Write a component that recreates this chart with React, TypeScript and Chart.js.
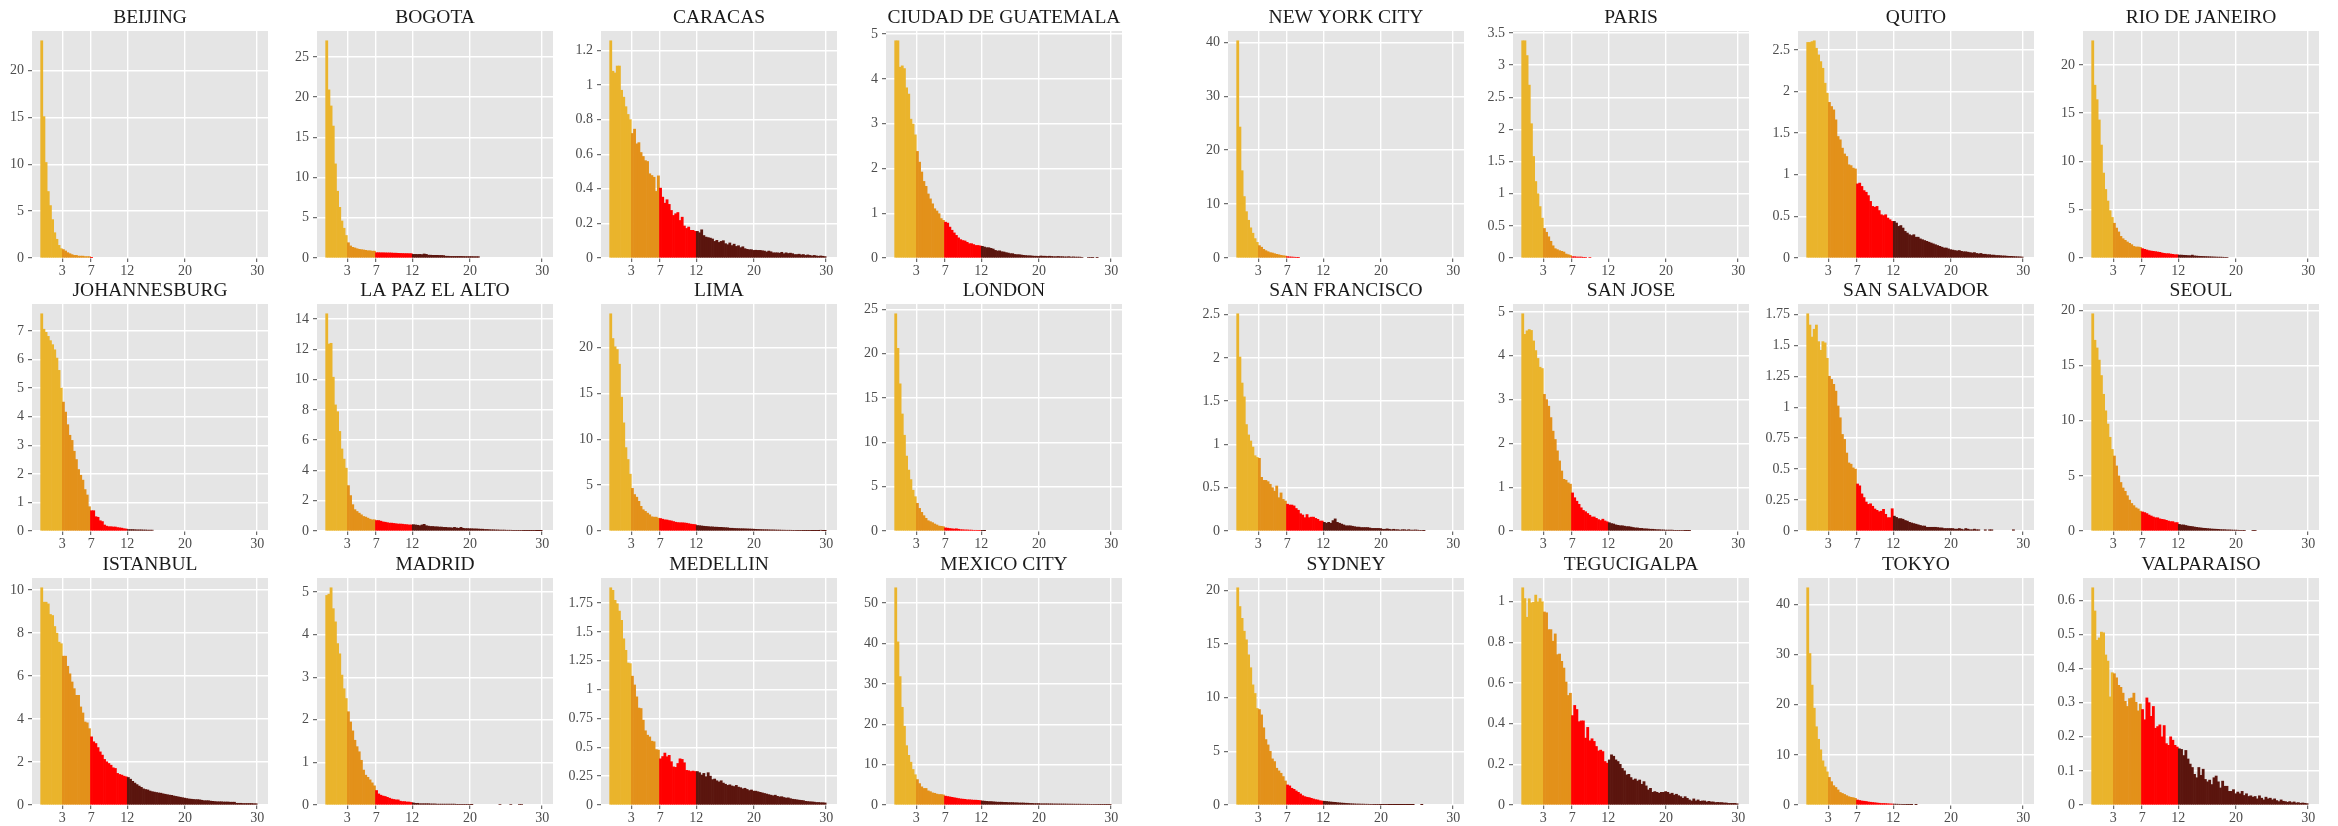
import React, { useEffect, useRef } from 'react';
import { Chart, registerables } from 'chart.js';

Chart.register(...registerables);

// ---------- data ----------
const BIN_WIDTH = 0.3;
const X_TICKS = [3, 7, 12, 20, 30];
const CLASS_BREAKS = [3, 7, 12];
const CLASS_COLORS = ['#EAB42C', '#E3911A', '#FF0000', '#5B150E'];

const BEIJING = [23.2, 15.1, 10.2, 7.1, 5.6, 4.1, 2.7, 2.0, 1.35, 1.0, 0.9, 0.75, 0.57, 0.46, 0.36, 0.28, 0.28, 0.2, 0.2, 0.2, 0.15, 0.15, 0.15, 0.05];
const BOGOTA = [27.0, 20.9, 18.9, 16.4, 11.7, 8.3, 6.3, 4.6, 3.7, 2.8,
  1.9, 1.5, 1.33, 1.25, 1.15, 1.08, 1.04, 1.0, 0.95, 0.9, 0.9, 0.85, 0.85,
  0.66, 0.66, 0.65, 0.65, 0.64, 0.63, 0.63, 0.62, 0.6, 0.6, 0.58, 0.57, 0.56, 0.55, 0.55, 0.54, 0.54,
  0.45, 0.45, 0.44, 0.45, 0.42, 0.5, 0.45, 0.35, 0.35, 0.33, 0.33, 0.33, 0.32, 0.32, 0.3,
  0.22, 0.22, 0.2, 0.2, 0.2, 0.2, 0.2, 0.2, 0.19, 0.18, 0.18, 0.18, 0.18, 0.17, 0.17, 0.17];
const CARACAS = [1.256, 1.08, 1.07, 1.11, 1.11, 0.97, 0.93, 0.875, 0.83, 0.8,
  0.72, 0.745, 0.66, 0.667, 0.61, 0.587, 0.563, 0.558, 0.487, 0.477, 0.467, 0.385, 0.475,
  0.404, 0.352, 0.317, 0.337, 0.31, 0.275, 0.246, 0.256, 0.263, 0.217, 0.236, 0.185, 0.171, 0.179, 0.16, 0.16, 0.154,
  0.154, 0.146, 0.163, 0.13, 0.121, 0.118, 0.115, 0.11, 0.096, 0.102, 0.09, 0.096, 0.1,
  0.083, 0.077, 0.087, 0.072, 0.08, 0.067, 0.071, 0.06, 0.065, 0.054, 0.05, 0.048, 0.048, 0.044,
  0.045, 0.044, 0.044, 0.042, 0.04, 0.035, 0.04, 0.036, 0.03,
  0.03, 0.03, 0.028, 0.033, 0.025, 0.03, 0.026, 0.028, 0.025, 0.02,
  0.02, 0.022, 0.018, 0.02, 0.015, 0.018, 0.015, 0.012, 0.015, 0.012, 0.01, 0.012, 0.01, 0.008];
const CIUDAD_DE_GUATEMALA = [4.85, 4.85, 4.26, 4.29, 4.23, 3.8, 3.66, 3.1, 2.99, 2.75,
  2.38, 2.14, 1.92, 1.71, 1.6, 1.43, 1.32, 1.21, 1.1, 1.05, 0.99, 0.88, 0.84,
  0.8, 0.78, 0.69, 0.62, 0.56, 0.505, 0.45, 0.41, 0.39, 0.38, 0.35, 0.32, 0.32, 0.3, 0.28, 0.28, 0.27,
  0.26, 0.245, 0.23, 0.23, 0.215, 0.2, 0.17, 0.156, 0.16, 0.14, 0.134, 0.12, 0.11, 0.097, 0.097, 0.08, 0.075, 0.075, 0.067, 0.06,
  0.055, 0.05, 0.05, 0.045, 0.04, 0.04, 0.035, 0.045, 0.04, 0.04, 0.035, 0.04, 0.035,
  0.03, 0.03, 0.035, 0.03, 0.03, 0.025, 0.025, 0.03, 0.02, 0.025, 0.02, 0.02, 0.02, 0.015,
  0, 0, 0.015, 0.015, 0.012, 0, 0.012];
const JOHANNESBURG = [7.6, 7.06, 6.95, 6.81, 6.66, 6.52, 6.34, 6.05, 5.62, 5.0,
  4.51, 4.16, 3.72, 3.35, 3.17, 2.79, 2.5, 2.15, 1.95, 1.78, 1.45, 1.26, 0.85,
  0.71, 0.71, 0.5, 0.48, 0.36, 0.33, 0.21, 0.17, 0.15, 0.15, 0.14, 0.14, 0.12, 0.11, 0.1, 0.08, 0.07,
  0.05, 0.05, 0.05, 0.045, 0.04, 0.04, 0.04, 0.035, 0.035, 0.03, 0.03, 0.03];
const LA_PAZ_EL_ALTO = [14.35, 12.35, 12.4, 10.16, 8.33, 7.88, 6.58, 5.42, 4.75, 4.15,
  3.0, 2.34, 1.74, 1.41, 1.29, 1.18, 1.07, 0.96, 0.92, 0.85, 0.78, 0.74, 0.74,
  0.69, 0.69, 0.65, 0.6, 0.58, 0.55, 0.52, 0.52, 0.5, 0.48, 0.46, 0.46, 0.45, 0.43, 0.42, 0.4, 0.4,
  0.42, 0.4, 0.38, 0.35, 0.4, 0.44, 0.35, 0.32, 0.3, 0.3, 0.28, 0.28, 0.26, 0.26, 0.24, 0.24,
  0.22, 0.22, 0.2, 0.24, 0.2, 0.18, 0.24, 0.18, 0.16, 0.16, 0.15,
  0.15, 0.14, 0.14, 0.13, 0.12, 0.12, 0.1, 0.1, 0.09, 0.08, 0.08, 0.07, 0.07, 0.06,
  0.06, 0.06, 0.05, 0.05, 0.05, 0.04, 0.04, 0.04, 0.04, 0.04, 0.03, 0.03, 0.03, 0.03, 0.03, 0.03, 0.02, 0.02, 0.02];
const LIMA = [23.7, 21.0, 20.1, 19.8, 18.2, 14.6, 11.8, 9.1, 7.8, 6.2,
  4.65, 3.98, 3.69, 3.24, 2.69, 2.32, 2.14, 1.95, 1.77, 1.55, 1.51, 1.51, 1.4,
  1.36, 1.29, 1.22, 1.2, 1.14, 1.1, 1.03, 0.96, 0.92, 0.9, 0.9, 0.88, 0.85, 0.8, 0.75, 0.72, 0.7,
  0.6, 0.58, 0.55, 0.52, 0.5, 0.48, 0.45, 0.45, 0.42, 0.42, 0.4, 0.4, 0.38, 0.36, 0.35, 0.3,
  0.3, 0.28, 0.27, 0.26, 0.25, 0.25, 0.24, 0.23, 0.22, 0.21, 0.2,
  0.18, 0.17, 0.16, 0.15, 0.14, 0.14, 0.13, 0.12, 0.12, 0.11, 0.1, 0.1, 0.09, 0.09,
  0.08, 0.08, 0.08, 0.07, 0.07, 0.06, 0.06, 0.06, 0.05, 0.05, 0.05, 0.05, 0.04, 0.04, 0.04, 0.03, 0.08, 0.04, 0.03];
const LONDON = [24.5, 20.6, 16.6, 13.2, 10.8, 8.45, 6.87, 5.8, 4.6, 3.87,
  3.12, 2.55, 2.1, 1.73, 1.43, 1.16, 1.05, 0.94, 0.79, 0.68, 0.56, 0.53, 0.49,
  0.35, 0.32, 0.28, 0.25, 0.22, 0.25, 0.2, 0.15, 0.14, 0.12, 0.12, 0.1, 0.1, 0.08, 0.08, 0.07, 0.07,
  0.05, 0.04];
const ISTANBUL = [10.1, 9.43, 9.43, 9.35, 8.86, 8.81, 8.3, 7.99, 7.57, 7.5,
  6.92, 6.92, 6.45, 6.1, 5.72, 5.41, 5.1, 5.1, 4.56, 4.28, 3.86, 3.82, 3.55,
  3.17, 2.94, 2.86, 2.67, 2.47, 2.32, 2.12, 2.01, 1.93, 1.85, 1.73, 1.7, 1.47, 1.42, 1.39, 1.34, 1.31,
  1.28, 1.2, 1.1, 1.02, 0.95, 0.88, 0.82, 0.75, 0.72, 0.7, 0.65, 0.62, 0.6, 0.58, 0.56, 0.55,
  0.52, 0.5, 0.48, 0.46, 0.45, 0.42, 0.4, 0.38, 0.36, 0.34, 0.32,
  0.3, 0.28, 0.27, 0.26, 0.25, 0.25, 0.24, 0.22, 0.2, 0.2, 0.2, 0.18, 0.17, 0.16,
  0.15, 0.15, 0.15, 0.14, 0.14, 0.14, 0.13, 0.13, 0.13,
  0.08, 0.08, 0.08, 0.07, 0.07, 0.07, 0.07, 0.07, 0.06, 0.06];
const MADRID = [4.92, 4.95, 5.1, 4.61, 4.3, 3.79, 3.55, 3.05, 2.73, 2.5,
  2.19, 1.95, 1.74, 1.52, 1.37, 1.25, 1.05, 0.82, 0.7, 0.65, 0.59, 0.52, 0.45,
  0.34, 0.26, 0.23, 0.21, 0.2, 0.18, 0.16, 0.14, 0.13, 0.12, 0.12, 0.09, 0.08, 0.08, 0.07, 0.07, 0.06,
  0.05, 0.04, 0.04, 0.03, 0.03, 0.03, 0.03, 0.03, 0.025, 0.025, 0.025, 0.02, 0.02, 0.02, 0.02, 0.02,
  0.02, 0.02, 0.02, 0.02, 0.015, 0.015, 0.015, 0.015, 0.015, 0.015, 0.015,
  0.01, 0, 0, 0, 0, 0, 0, 0, 0, 0, 0, 0, 0, 0.015, 0, 0, 0, 0, 0.015, 0, 0, 0, 0.015, 0.015];
const MEDELLIN = [1.882, 1.86, 1.773, 1.744, 1.68, 1.6, 1.44, 1.34, 1.23, 1.225,
  1.116, 1.04, 0.937, 0.84, 0.836, 0.735, 0.643, 0.605, 0.59, 0.553, 0.548, 0.48, 0.476,
  0.4, 0.42, 0.45, 0.418, 0.43, 0.375, 0.33, 0.326, 0.36, 0.4, 0.395, 0.366, 0.3, 0.297, 0.29, 0.294, 0.29,
  0.29, 0.28, 0.26, 0.274, 0.245, 0.28, 0.25, 0.22, 0.225, 0.21, 0.2, 0.21, 0.19, 0.18,
  0.17, 0.175, 0.165, 0.16, 0.17, 0.155, 0.15, 0.14, 0.145, 0.135, 0.125, 0.13, 0.12,
  0.12, 0.115, 0.11, 0.105, 0.1, 0.095, 0.09, 0.085, 0.08, 0.085, 0.075, 0.07, 0.072,
  0.065, 0.06, 0.062, 0.055, 0.05, 0.048, 0.045, 0.042, 0.04, 0.038,
  0.032, 0.03, 0.028, 0.027, 0.025, 0.022, 0.022, 0.02, 0.02, 0.018];
const MEXICO_CITY = [53.8, 40.4, 31.8, 24.2, 19.5, 14.7, 12.3, 10.6, 8.8, 7.5,
  6.3, 5.3, 4.5, 4.1, 4.1, 3.5, 3.3, 3.0, 2.9, 2.7, 2.6, 2.6, 2.5,
  2.2, 2.1, 2.0, 1.9, 1.8, 1.7, 1.6, 1.5, 1.45, 1.4, 1.3, 1.3, 1.25, 1.2, 1.2, 1.15, 1.1,
  1.0, 0.95, 0.9, 0.85, 0.85, 0.8, 0.75, 0.7, 0.7, 0.7, 0.65, 0.65, 0.6, 0.6, 0.6, 0.55,
  0.55, 0.5, 0.5, 0.5, 0.45, 0.45, 0.4, 0.4, 0.35, 0.35, 0.35,
  0.3, 0.3, 0.3, 0.3, 0.28, 0.28, 0.26, 0.26, 0.25, 0.25, 0.24, 0.24, 0.23, 0.22,
  0.22, 0.21, 0.2, 0.2, 0.2, 0.19, 0.19, 0.18, 0.18, 0.17, 0.17, 0.16, 0.16, 0.15, 0.15, 0.15, 0.14, 0.14, 0.14];
const NEW_YORK_CITY = [40.3, 24.3, 16.2, 11.4, 8.6, 7.0, 5.6, 4.6, 3.6, 2.9,
  2.3, 2.0, 1.6, 1.36, 1.17, 1.0, 0.93, 0.8, 0.68, 0.6, 0.5, 0.43, 0.37,
  0.25, 0.2, 0.18, 0.15, 0.12, 0.1];
const PARIS = [3.38, 3.38, 3.15, 2.69, 2.09, 1.58, 1.19, 1.0, 0.8, 0.62,
  0.46, 0.4, 0.33, 0.26, 0.19, 0.145, 0.13, 0.114, 0.104, 0.093, 0.062, 0.052, 0.04,
  0.02, 0.02, 0.015, 0.015, 0.015, 0.01, 0.01, 0, 0.01];
const QUITO = [2.59, 2.59, 2.6, 2.61, 2.52, 2.44, 2.36, 2.28, 2.1, 1.98,
  1.87, 1.82, 1.78, 1.66, 1.46, 1.42, 1.32, 1.25, 1.22, 1.12, 1.11, 1.08, 1.07,
  0.89, 0.9, 0.86, 0.81, 0.79, 0.75, 0.68, 0.62, 0.61, 0.62, 0.57, 0.52, 0.51, 0.52, 0.48, 0.46, 0.44,
  0.44, 0.42, 0.38, 0.39, 0.36, 0.32, 0.3, 0.28, 0.27, 0.28, 0.25, 0.25, 0.23, 0.22, 0.21, 0.2,
  0.19, 0.18, 0.17, 0.16, 0.15, 0.14, 0.13, 0.12, 0.12, 0.11, 0.1,
  0.095, 0.09, 0.085, 0.09, 0.08, 0.075, 0.075, 0.07, 0.065, 0.06, 0.065, 0.055, 0.05, 0.055,
  0.045, 0.045, 0.04, 0.04, 0.035, 0.035, 0.03, 0.03, 0.028,
  0.025, 0.025, 0.022, 0.02, 0.02, 0.018, 0.016, 0.015, 0.014, 0.012];
const RIO_DE_JANEIRO = [22.5, 17.9, 16.4, 14.3, 11.7, 8.8, 7.1, 5.9, 4.9, 4.2,
  3.6, 3.1, 2.7, 2.24, 2.0, 1.83, 1.66, 1.52, 1.38, 1.2, 1.14, 1.14, 1.1,
  0.97, 0.9, 0.83, 0.76, 0.72, 0.69, 0.66, 0.62, 0.59, 0.52, 0.48, 0.45, 0.45, 0.41, 0.38, 0.34, 0.34,
  0.3, 0.3, 0.28, 0.27, 0.25, 0.24, 0.3, 0.22, 0.2, 0.18, 0.17, 0.16, 0.15, 0.14, 0.13, 0.12,
  0.11, 0.1, 0.09, 0.09, 0.08, 0.07, 0.07];
const SAN_FRANCISCO = [2.51, 2.01, 1.71, 1.55, 1.23, 1.11, 1.04, 0.97, 0.87, 0.85,
  0.84, 0.62, 0.585, 0.585, 0.57, 0.54, 0.5, 0.46, 0.52, 0.385, 0.44, 0.365, 0.346,
  0.31, 0.3, 0.3, 0.29, 0.26, 0.24, 0.2, 0.185, 0.154, 0.19, 0.154, 0.16, 0.16, 0.146, 0.135, 0.115, 0.115,
  0.1, 0.09, 0.1, 0.09, 0.12, 0.14, 0.1, 0.09, 0.08, 0.07, 0.06, 0.06, 0.06, 0.055, 0.05, 0.045,
  0.045, 0.04, 0.04, 0.04, 0.04, 0.035, 0.03, 0.03, 0.03, 0.03, 0.028,
  0.02, 0.02, 0.025, 0.02, 0.015, 0.02, 0.015, 0.015, 0.01, 0.015, 0.015, 0.01, 0.015, 0.01,
  0.01, 0.012, 0.01, 0.008, 0.008, 0.005];
const SAN_JOSE = [4.96, 4.49, 4.57, 4.6, 4.58, 4.34, 4.12, 3.94, 3.74, 3.71,
  3.12, 3.0, 2.85, 2.59, 2.28, 2.09, 1.83, 1.6, 1.37, 1.18, 1.16, 1.1, 1.07,
  0.87, 0.76, 0.68, 0.61, 0.53, 0.47, 0.44, 0.4, 0.36, 0.32, 0.32, 0.29, 0.26, 0.24, 0.27, 0.23, 0.21,
  0.19, 0.17, 0.16, 0.14, 0.13, 0.12, 0.12, 0.11, 0.1, 0.1, 0.09, 0.08, 0.07, 0.07, 0.06, 0.06,
  0.05, 0.05, 0.045, 0.04, 0.04, 0.035, 0.03, 0.03, 0.025, 0.025, 0.02,
  0.02, 0.02, 0.02, 0.015, 0.015, 0.015, 0.015, 0.015, 0.01, 0.01, 0.01];
const SAN_SALVADOR = [1.755, 1.664, 1.567, 1.63, 1.664, 1.53, 1.46, 1.53, 1.52, 1.395,
  1.25, 1.225, 1.185, 1.13, 1.01, 0.915, 0.78, 0.74, 0.63, 0.55, 0.54, 0.51, 0.5,
  0.38, 0.365, 0.3, 0.27, 0.234, 0.215, 0.22, 0.2, 0.178, 0.167, 0.156, 0.16, 0.175, 0.135, 0.108, 0.108, 0.18,
  0.12, 0.11, 0.1, 0.1, 0.095, 0.085, 0.08, 0.07, 0.065, 0.06, 0.055, 0.05, 0.045, 0.04, 0.04, 0.03,
  0.03, 0.03, 0.03, 0.03, 0.028, 0.025, 0.025, 0.02, 0.02, 0.02, 0.02,
  0.02, 0.015, 0.015, 0.02, 0.015, 0.01, 0.02, 0.015, 0.01, 0.01, 0.015, 0.01, 0.01, 0,
  0, 0.01, 0, 0.01, 0.01, 0, 0, 0, 0, 0, 0, 0, 0, 0, 0.01];
const SEOUL = [19.7, 17.3, 16.6, 15.5, 14.1, 12.4, 10.9, 9.7, 8.5, 7.4,
  6.8, 5.9, 5.0, 4.4, 3.9, 3.6, 3.2, 2.8, 2.5, 2.3, 2.1, 2.0, 1.8,
  1.73, 1.67, 1.58, 1.45, 1.36, 1.27, 1.2, 1.2, 1.1, 1.06, 1.03, 0.97, 0.9, 0.85, 0.85, 0.76, 0.76,
  0.6, 0.55, 0.55, 0.5, 0.45, 0.42, 0.4, 0.36, 0.33, 0.3, 0.28, 0.25, 0.24, 0.22, 0.2, 0.18,
  0.17, 0.16, 0.15, 0.13, 0.12, 0.12, 0.1, 0.1, 0.09, 0.08, 0.08,
  0.07, 0.06, 0.06, 0.05, 0, 0, 0, 0.05, 0.05];
const SYDNEY = [20.25, 18.5, 17.4, 16.2, 15.4, 14.0, 12.8, 11.2, 10.4, 9.0,
  8.9, 8.4, 7.2, 6.1, 5.6, 5.0, 4.3, 4.05, 3.43, 3.18, 2.96, 2.65, 2.24,
  1.87, 1.78, 1.56, 1.46, 1.31, 1.18, 1.03, 0.87, 0.78, 0.72, 0.69, 0.62, 0.56, 0.5, 0.47, 0.4, 0.37,
  0.35, 0.33, 0.3, 0.28, 0.26, 0.25, 0.22, 0.2, 0.18, 0.17, 0.15, 0.14, 0.12, 0.11, 0.1, 0.09,
  0.09, 0.08, 0.08, 0.07, 0.07, 0.06, 0.06, 0.05, 0.05, 0.05, 0.04,
  0.04, 0.04, 0.04, 0.03, 0.03, 0.03, 0.03, 0.03, 0.02, 0.02, 0.02, 0.02, 0.02, 0.02,
  0.015, 0, 0, 0, 0.015];
const TEGUCIGALPA = [1.069, 1.016, 0.924, 1.015, 0.995, 0.998, 1.033, 1.0, 1.016, 1.0,
  0.95, 0.946, 0.863, 0.863, 0.806, 0.842, 0.74, 0.743, 0.707, 0.674, 0.605, 0.539, 0.55,
  0.44, 0.49, 0.47, 0.41, 0.414, 0.414, 0.329, 0.382, 0.316, 0.326, 0.313, 0.288, 0.266, 0.27, 0.263, 0.214, 0.206,
  0.222, 0.247, 0.24, 0.222, 0.214, 0.2, 0.18, 0.168, 0.148, 0.151, 0.135, 0.123, 0.128, 0.118, 0.123, 0.102,
  0.115, 0.094, 0.074, 0.082, 0.0625, 0.066, 0.0625, 0.058, 0.0625, 0.0625, 0.066,
  0.0625, 0.054, 0.058, 0.049, 0.053, 0.046, 0.041, 0.033, 0.041, 0.033, 0.025, 0.02, 0.03, 0.02,
  0.025, 0.018, 0.02, 0.02, 0.015, 0.018, 0.015, 0.015, 0.012, 0.013,
  0.012, 0.012, 0.01, 0.01, 0.008, 0.008, 0.008, 0.008, 0.006];
const TOKYO = [43.3, 30.2, 23.9, 19.3, 15.6, 13.1, 11.0, 8.8, 7.6, 6.6,
  5.5, 4.65, 3.85, 3.5, 3.0, 2.5, 2.3, 2.1, 1.86, 1.66, 1.53, 1.46, 1.33,
  1.0, 0.9, 0.8, 0.75, 0.7, 0.6, 0.55, 0.5, 0.45, 0.4, 0.35, 0.3, 0.3, 0.28, 0.25, 0.22, 0.2,
  0.18, 0.16, 0.15, 0.14, 0.12, 0.12, 0.1, 0.1, 0.08, 0, 0.08];
const VALPARAISO = [0.637, 0.569, 0.483, 0.49, 0.507, 0.505, 0.44, 0.422, 0.317, 0.388,
  0.385, 0.373, 0.351, 0.345, 0.328, 0.304, 0.289, 0.312, 0.314, 0.328, 0.301, 0.276, 0.296,
  0.28, 0.25, 0.314, 0.3, 0.26, 0.289, 0.225, 0.23, 0.235, 0.2, 0.233, 0.18, 0.175, 0.2, 0.19, 0.175, 0.17,
  0.165, 0.163, 0.145, 0.16, 0.135, 0.12, 0.11, 0.09, 0.08, 0.11, 0.087, 0.105, 0.075, 0.068, 0.073, 0.06,
  0.08, 0.085, 0.068, 0.05, 0.07, 0.055, 0.055, 0.04, 0.04, 0.045, 0.033,
  0.038, 0.033, 0.04, 0.028, 0.033, 0.025, 0.027, 0.023, 0.025, 0.018, 0.027, 0.02, 0.015, 0.023,
  0.018, 0.02, 0.015, 0.018, 0.013, 0.01, 0.015, 0.011, 0.01,
  0.008, 0.01, 0.007, 0.009, 0.006, 0.007, 0.005, 0.006, 0.005, 0.004];

// facet order: left block (4 columns) then right block (4 columns), row by row
const CITY_NAMES = [
  'BEIJING', 'BOGOTA', 'CARACAS', 'CIUDAD DE GUATEMALA',
  'JOHANNESBURG', 'LA PAZ EL ALTO', 'LIMA', 'LONDON',
  'ISTANBUL', 'MADRID', 'MEDELLIN', 'MEXICO CITY',
  'NEW YORK CITY', 'PARIS', 'QUITO', 'RIO DE JANEIRO',
  'SAN FRANCISCO', 'SAN JOSE', 'SAN SALVADOR', 'SEOUL',
  'SYDNEY', 'TEGUCIGALPA', 'TOKYO', 'VALPARAISO',
];
const CITY_SERIES = [
  BEIJING, BOGOTA, CARACAS, CIUDAD_DE_GUATEMALA,
  JOHANNESBURG, LA_PAZ_EL_ALTO, LIMA, LONDON,
  ISTANBUL, MADRID, MEDELLIN, MEXICO_CITY,
  NEW_YORK_CITY, PARIS, QUITO, RIO_DE_JANEIRO,
  SAN_FRANCISCO, SAN_JOSE, SAN_SALVADOR, SEOUL,
  SYDNEY, TEGUCIGALPA, TOKYO, VALPARAISO,
];
const Y_TICK_STEPS = [
  5, 5, 0.2, 1,
  1, 2, 5, 5,
  2, 1, 0.25, 10,
  10, 0.5, 0.5, 5,
  0.5, 1, 0.25, 5,
  5, 0.2, 10, 0.1,
];

// ---------- layout ----------
const COL_LEFT = [32, 317, 601, 886, 1228, 1513, 1798, 2083];
const ROW_TOP = [31, 304, 578];
const PANEL_W = 236;
const PANEL_H = 227;
const AXIS_W = 60;
const TITLE_H = 30;
const XAXIS_H = 22;
const RIGHT_PAD = 14;
const CANVAS_W = AXIS_W + PANEL_W + RIGHT_PAD;
const CANVAS_H = TITLE_H + PANEL_H + XAXIS_H;

const SERIF = '"Liberation Serif", "DejaVu Serif", serif';
const TICK_FONT = { family: SERIF, size: 14 };
const TICK_COLOR = '#4D4D4D';

const fmt = (v: number) => String(Number(v.toFixed(3)));

const panelBg = {
  id: 'panelBg',
  beforeDraw(chart: any) {
    const { ctx, chartArea } = chart;
    ctx.save();
    ctx.fillStyle = '#E5E5E5';
    ctx.fillRect(chartArea.left, chartArea.top, chartArea.right - chartArea.left, chartArea.bottom - chartArea.top);
    ctx.restore();
  },
};

function classColor(x: number) {
  for (let i = 0; i < CLASS_BREAKS.length; i++) if (x < CLASS_BREAKS[i]) return CLASS_COLORS[i];
  return CLASS_COLORS[CLASS_COLORS.length - 1];
}

function Panel({ name, values, step, left, top }: { name: string; values: number[]; step: number; left: number; top: number }) {
  const ref = useRef<HTMLCanvasElement>(null);
  useEffect(() => {
    if (!ref.current) return;
    const pts = values.map((v, i) => ({ x: Number((i * BIN_WIDTH + BIN_WIDTH / 2).toFixed(3)), y: v > 0 ? v : null }));
    const colors = pts.map((p) => classColor(p.x));
    const vmax = Math.max(...values);
    const ymax = vmax * 1.045;
    const yTicks: number[] = [];
    for (let i = 0; i * step <= ymax + 1e-9; i++) yTicks.push(Number((i * step).toFixed(4)));

    const chart = new Chart(ref.current, {
      type: 'bar',
      data: {
        datasets: [{
          data: pts as any,
          backgroundColor: colors,
          borderWidth: 0,
          barPercentage: 1,
          categoryPercentage: 1,
        }],
      },
      options: {
        responsive: false,
        animation: false,
        devicePixelRatio: 1,
        layout: { padding: { left: 0, right: RIGHT_PAD, top: 0, bottom: 0 } },
        plugins: {
          legend: { display: false },
          tooltip: { enabled: false },
          title: {
            display: true,
            text: name,
            fullSize: false,
            color: '#1A1A1A',
            font: { family: SERIF, size: 19.5, weight: 'normal', lineHeight: '22px' } as any,
            padding: { top: 6, bottom: 2 },
          },
        },
        scales: {
          x: {
            type: 'linear',
            min: -1.2,
            max: 31.5,
            offset: false,
            grid: { offset: false, color: '#FFFFFF', lineWidth: 1.4, tickColor: TICK_COLOR, tickLength: 4, tickWidth: 1, drawTicks: true },
            border: { display: false },
            ticks: { font: TICK_FONT, color: TICK_COLOR, padding: 1, autoSkip: false, maxRotation: 0, minRotation: 0, callback: (v: any) => fmt(Number(v)) },
            afterBuildTicks: (s: any) => { s.ticks = X_TICKS.map((v) => ({ value: v })); },
            afterFit: (s: any) => { s.height = XAXIS_H; },
          } as any,
          y: {
            type: 'linear',
            min: 0,
            max: ymax,
            grid: { color: '#FFFFFF', lineWidth: 1.4, tickColor: TICK_COLOR, tickLength: 4, tickWidth: 1, drawTicks: true },
            border: { display: false },
            ticks: { font: TICK_FONT, color: TICK_COLOR, padding: 4, autoSkip: false, callback: (v: any) => fmt(Number(v)) },
            afterBuildTicks: (s: any) => { s.ticks = yTicks.map((v) => ({ value: v })); },
            afterFit: (s: any) => { s.width = AXIS_W; },
          } as any,
        },
      },
      plugins: [panelBg],
    });
    return () => chart.destroy();
  }, [name, values, step]);
  return (
    <canvas
      ref={ref}
      width={CANVAS_W}
      height={CANVAS_H}
      style={{ position: 'absolute', left, top, width: CANVAS_W, height: CANVAS_H }}
    />
  );
}

export default function App() {
  useEffect(() => {
    document.body.style.margin = '0';
    document.body.style.overflow = 'hidden';
  }, []);
  const panels = CITY_NAMES.map((name, i) => {
    const block = i < 12 ? 0 : 1;
    const k = i % 12;
    const row = Math.floor(k / 4);
    const col = block * 4 + (k % 4);
    return (
      <Panel
        key={name}
        name={name}
        values={CITY_SERIES[i]}
        step={Y_TICK_STEPS[i]}
        left={COL_LEFT[col] - AXIS_W}
        top={ROW_TOP[row] - TITLE_H}
      />
    );
  });
  return (
    <div style={{ position: 'absolute', left: 0, top: 0, width: 2338, height: 826, overflow: 'hidden', background: '#FFFFFF' }}>
      {panels}
    </div>
  );
}
